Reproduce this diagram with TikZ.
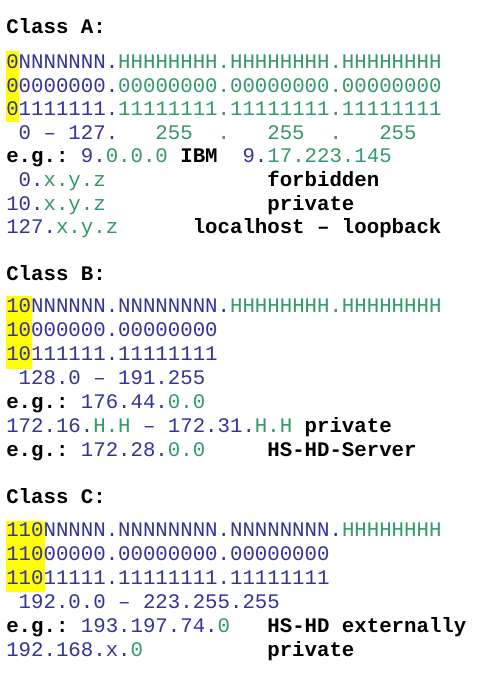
\documentclass[tikz,border=0pt]{standalone}
\usepackage{fontspec}
\setmainfont{Liberation Mono}
\definecolor{netblue}{HTML}{333399}
\definecolor{hostgreen}{HTML}{339966}
\definecolor{marker}{HTML}{FFFF00}
% one character cell of the monospaced grid
\newlength{\cw}
\setlength{\cw}{12.43pt}
\newcommand{\netpart}[1]{\textcolor{netblue}{#1}}
\newcommand{\hostpart}[1]{\textcolor{hostgreen}{#1}}
\newcommand{\lbl}[1]{\textcolor{black}{\bfseries #1}}
\newcommand{\colgap}[1]{\hspace*{#1\cw}}
\tikzset{
  txtline/.style={anchor=base west, inner sep=0pt, outer sep=0pt,
    font=\fontsize{20.72}{24}\selectfont},
  heading/.style={txtline, font=\fontsize{20.72}{24}\selectfont\bfseries},
  bitmark/.style={fill=marker, draw=none}
}
\begin{document}
\begin{tikzpicture}[x=1pt,y=1pt]
\useasboundingbox (0,0) rectangle (477,-673);
\fill[white] (0,0) rectangle (477,-673);

% highlighted class prefix bits
\fill[bitmark] (6,-51) rectangle (19,-122);
\fill[bitmark] (6,-296) rectangle (32,-369);
\fill[bitmark] (6,-521) rectangle (44.5,-592);

% ---------------- Class A ----------------
\node[heading] (ha) at (6.3,-33) {Class A:};
\node[txtline] (a1) at (6.3,-68.5) {\netpart{0NNNNNNN.}\hostpart{HHHHHHHH.HHHHHHHH.HHHHHHHH}};
\node[txtline] (a2) at (6.3,-92.1) {\netpart{00000000.}\hostpart{00000000.00000000.00000000}};
\node[txtline] (a3) at (6.3,-115.7) {\netpart{01111111.}\hostpart{11111111.11111111.11111111}};
\node[txtline] (a4) at (6.3,-139.3) {\colgap{1}\netpart{0 – 127.}\colgap{3}\hostpart{255}\colgap{2}\hostpart{.}\colgap{3}\hostpart{255}\colgap{2}\hostpart{.}\colgap{3}\hostpart{255}};
\node[txtline] (a5) at (6.3,-162.9) {\lbl{e.g.:}\colgap{1}\netpart{9.}\hostpart{0.0.0}\colgap{1}\lbl{IBM}\colgap{2}\netpart{9.}\hostpart{17.223.145}};
\node[txtline] (a6) at (6.3,-186.5) {\colgap{1}\netpart{0.}\hostpart{x.y.z}\colgap{13}\lbl{forbidden}};
\node[txtline] (a7) at (6.3,-210.1) {\netpart{10.}\hostpart{x.y.z}\colgap{13}\lbl{private}};
\node[txtline] (a8) at (6.3,-233.7) {\netpart{127.}\hostpart{x.y.z}\colgap{6}\lbl{localhost – loopback}};

% ---------------- Class B ----------------
\node[heading] (hb) at (6.3,-280) {Class B:};
\node[txtline] (b1) at (6.3,-312.5) {\netpart{10NNNNNN.NNNNNNNN.}\hostpart{HHHHHHHH.HHHHHHHH}};
\node[txtline] (b2) at (6.3,-336.5) {\netpart{10000000.00000000}};
\node[txtline] (b3) at (6.3,-360.5) {\netpart{10111111.11111111}};
\node[txtline] (b4) at (6.3,-384.5) {\colgap{1}\netpart{128.0 – 191.255}};
\node[txtline] (b5) at (6.3,-408.5) {\lbl{e.g.:}\colgap{1}\netpart{176.44.}\hostpart{0.0}};
\node[txtline] (b6) at (6.3,-432.5) {\netpart{172.16.}\hostpart{H.H}\colgap{1}\netpart{–}\colgap{1}\netpart{172.31.}\hostpart{H.H}\colgap{1}\lbl{private}};
\node[txtline] (b7) at (6.3,-456.5) {\lbl{e.g.:}\colgap{1}\netpart{172.28.}\hostpart{0.0}\colgap{5}\lbl{HS-HD-Server}};

% ---------------- Class C ----------------
\node[heading] (hc) at (6.3,-503) {Class C:};
\node[txtline] (c1) at (6.3,-536.5) {\netpart{110NNNNN.NNNNNNNN.NNNNNNNN.}\hostpart{HHHHHHHH}};
\node[txtline] (c2) at (6.3,-560.5) {\netpart{11000000.00000000.00000000}};
\node[txtline] (c3) at (6.3,-584.5) {\netpart{11011111.11111111.11111111}};
\node[txtline] (c4) at (6.3,-608.5) {\colgap{1}\netpart{192.0.0 – 223.255.255}};
\node[txtline] (c5) at (6.3,-632.5) {\lbl{e.g.:}\colgap{1}\netpart{193.197.74.}\hostpart{0}\colgap{3}\lbl{HS-HD externally}};
\node[txtline] (c6) at (6.3,-656.5) {\netpart{192.168.x.}\hostpart{0}\colgap{10}\lbl{private}};
\end{tikzpicture}
\end{document}
